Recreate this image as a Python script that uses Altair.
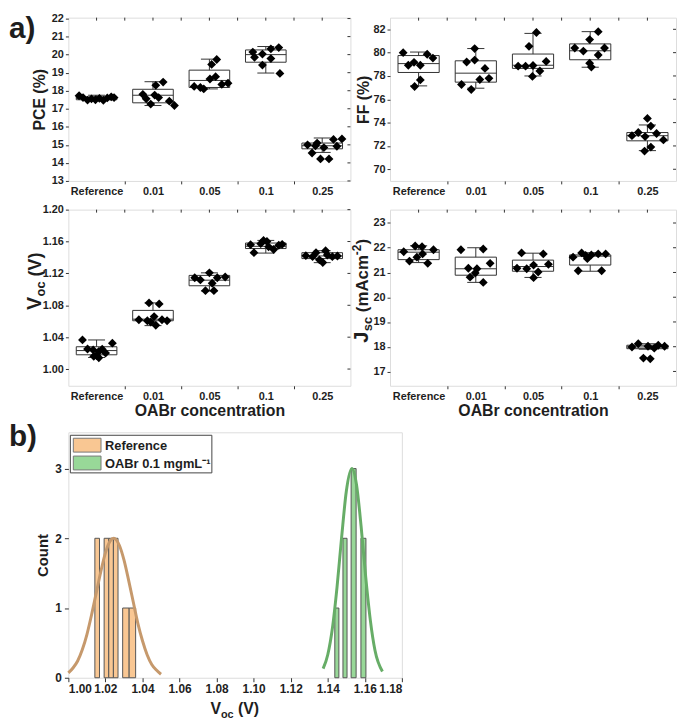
import altair as alt
import pandas as pd

FONT = "Liberation Sans"
DARK = "#1e1e1e"
FRAME = "#333333"
ORANGE = "#F9C793"
GREEN = "#98D898"
ORANGE_LINE = "#C6996C"
GREEN_LINE = "#67AD67"

CATEGORIES = ["Reference", "0.01", "0.05", "0.1", "0.25"]

# ---------------- box-plot panels: raw points, horizontal jitter, box statistics
PCE_VALUES = [
    [17.72, 17.62, 17.48, 17.55, 17.50, 17.58, 17.47, 17.60, 17.66, 17.62],
    [17.80, 17.26, 18.30, 18.48, 17.76, 17.62, 17.42, 17.18, 17.55],
    [18.24, 18.10, 18.65, 18.78, 19.46, 19.73, 18.35, 18.42, 18.18],
    [20.14, 19.85, 20.03, 19.42, 20.32, 19.78, 20.39, 18.96],
    [15.00, 14.55, 15.10, 14.22, 14.85, 14.22, 15.30, 14.92, 15.33, 14.95],
]
PCE_JITTER = [
    [-0.31, -0.24, -0.16, -0.09, -0.02, 0.05, 0.12, 0.19, 0.26, 0.31],
    [-0.18, -0.04, 0.05, 0.18, 0.03, 0.10, 0.29, 0.38, -0.12],
    [-0.27, -0.10, 0.01, 0.11, 0.04, 0.13, 0.22, 0.33, -0.16],
    [-0.23, -0.20, -0.06, -0.06, 0.09, 0.09, 0.23, 0.25],
    [-0.26, -0.18, -0.09, -0.03, 0.03, 0.12, 0.20, 0.26, 0.35, -0.12],
]
PCE_LO = [17.45, 17.18, 18.10, 18.98, 14.58]
PCE_Q1 = [17.50, 17.33, 18.18, 19.58, 14.78]
PCE_MED = [17.57, 17.75, 18.57, 20.00, 14.95]
PCE_Q3 = [17.65, 18.08, 19.14, 20.26, 15.10]
PCE_HI = [17.75, 18.50, 19.75, 20.45, 15.38]

FF_VALUES = [
    [80.00, 78.92, 79.17, 78.92, 77.10, 77.66, 79.86, 79.53],
    [77.27, 79.20, 76.84, 79.36, 80.35, 77.70, 78.65, 77.80],
    [78.84, 78.84, 80.54, 78.90, 77.96, 78.43, 81.73, 79.25],
    [80.40, 80.13, 78.76, 81.12, 81.80, 79.80, 80.40, 79.10],
    [72.88, 73.15, 72.80, 74.36, 73.70, 73.07, 72.52, 71.90, 71.56],
]
FF_JITTER = [
    [-0.27, -0.18, -0.08, 0.03, -0.07, 0.03, 0.15, 0.25],
    [-0.25, -0.16, -0.08, -0.02, -0.02, 0.07, 0.16, 0.23],
    [-0.26, -0.13, -0.07, 0.00, -0.01, 0.12, 0.06, 0.23],
    [-0.27, -0.12, 0.02, -0.01, 0.14, 0.14, 0.25, -0.01],
    [-0.27, -0.16, -0.04, 0.00, 0.06, 0.16, 0.28, 0.06, -0.05],
]
FF_LO = [77.15, 76.95, 78.00, 78.75, 71.60]
FF_Q1 = [78.30, 77.47, 78.65, 79.39, 72.44]
FF_MED = [79.06, 78.24, 78.92, 80.16, 72.88]
FF_Q3 = [79.75, 79.30, 79.88, 80.75, 73.15]
FF_HI = [80.05, 80.35, 81.65, 81.80, 73.80]

VOC_VALUES = [
    [1.0366, 1.0252, 1.0240, 1.0170, 1.0220, 1.0142, 1.0200, 1.0325, 1.0160, 1.0250],
    [1.0618, 1.0606, 1.0830, 1.0658, 1.0549, 1.0817, 1.0618, 1.0606, 1.0590],
    [1.1146, 1.1118, 1.0984, 1.1207, 1.1077, 1.0984, 1.1146, 1.1155],
    [1.1561, 1.1460, 1.1573, 1.1614, 1.1600, 1.1533, 1.1500, 1.1553, 1.1565],
    [1.1423, 1.1410, 1.1460, 1.1370, 1.1484, 1.1431, 1.1410, 1.1419, 1.1337],
]
VOC_JITTER = [
    [-0.25, -0.16, -0.06, 0.00, 0.04, 0.04, 0.16, 0.28, -0.05, 0.10],
    [-0.25, -0.10, -0.07, 0.02, 0.05, 0.11, 0.16, 0.25, -0.04],
    [-0.26, -0.16, -0.07, 0.00, 0.05, 0.08, 0.14, 0.28],
    [-0.27, -0.21, -0.09, -0.04, 0.02, 0.05, 0.14, 0.23, 0.29],
    [-0.29, -0.17, -0.11, -0.05, 0.06, 0.09, 0.18, 0.27, 0.01],
]
VOC_LO = [1.0145, 1.0545, 1.0980, 1.1455, 1.1335]
VOC_Q1 = [1.0179, 1.0606, 1.1045, 1.1512, 1.1386]
VOC_MED = [1.0232, 1.0626, 1.1115, 1.1540, 1.1419]
VOC_Q3 = [1.0280, 1.0736, 1.1175, 1.1581, 1.1460]
VOC_HI = [1.0365, 1.0830, 1.1207, 1.1614, 1.1485]

JSC_VALUES = [
    [21.84, 21.46, 22.07, 21.62, 22.04, 21.75, 21.37, 21.92],
    [21.92, 21.17, 20.81, 20.98, 21.95, 20.60, 21.37, 21.15],
    [21.17, 21.79, 21.15, 21.30, 20.79, 21.02, 21.75, 21.33],
    [21.62, 21.79, 21.69, 21.56, 21.71, 21.75, 21.75, 21.07, 21.07],
    [17.99, 18.12, 17.54, 18.02, 17.51, 17.94, 18.06, 18.02],
]
JSC_JITTER = [
    [-0.26, -0.16, -0.06, -0.03, 0.06, 0.07, 0.16, 0.26],
    [-0.26, -0.13, -0.10, -0.01, 0.13, 0.13, 0.25, 0.02],
    [-0.28, -0.20, -0.11, 0.01, 0.01, 0.09, 0.18, 0.27],
    [-0.30, -0.15, -0.08, -0.05, 0.02, 0.14, 0.27, -0.21, 0.20],
    [-0.27, -0.16, -0.07, 0.01, 0.05, 0.12, 0.19, 0.30],
]
JSC_LO = [21.40, 20.60, 20.80, 21.05, 17.90]
JSC_Q1 = [21.52, 20.89, 21.05, 21.30, 17.92]
JSC_MED = [21.82, 21.15, 21.24, 21.66, 17.99]
JSC_Q3 = [21.92, 21.62, 21.50, 21.71, 18.06]
JSC_HI = [22.08, 22.00, 21.78, 21.80, 18.12]

# ---------------- histogram (b)
HIST_SERIES = ["Reference", "OABr 0.1 mgmL\u207b\u00b9"]
REF_BIN_START = [1.0143, 1.0193, 1.0218, 1.0243, 1.0293, 1.0328]
REF_BIN_END = [1.0168, 1.0218, 1.0243, 1.0268, 1.0328, 1.0363]
REF_COUNT = [2, 2, 2, 2, 1, 1]
OABR_BIN_START = [1.1438, 1.1482, 1.1526, 1.1579]
OABR_BIN_END = [1.1460, 1.1504, 1.1553, 1.1606]
OABR_COUNT = [1, 2, 3, 2]

REF_FIT_X = [1.0000, 1.0025, 1.0050, 1.0075, 1.0100, 1.0125, 1.0150, 1.0175, 1.0200,
             1.0225, 1.0245, 1.0275, 1.0300, 1.0325, 1.0350, 1.0375, 1.0400, 1.0425,
             1.0450, 1.0475, 1.0500]
REF_FIT_Y = [0.07, 0.14, 0.24, 0.40, 0.62, 0.90, 1.21, 1.52, 1.79,
             1.96, 2.00, 1.90, 1.69, 1.40, 1.09, 0.78, 0.53, 0.33,
             0.19, 0.11, 0.05]
OABR_FIT_X = [1.1375, 1.1400, 1.1425, 1.1450, 1.1475, 1.1500, 1.1530, 1.1555, 1.1580,
              1.1605, 1.1630, 1.1655, 1.1695]
OABR_FIT_Y = [0.13, 0.33, 0.71, 1.30, 2.02, 2.67, 3.00, 2.77, 2.17,
              1.44, 0.82, 0.39, 0.09]

ONE = pd.DataFrame({"k": [0]})


def text_layer(text, size, x, y, angle=0, align="left", baseline="alphabetic"):
    return alt.Chart(ONE).mark_text(
        text=text, fontSize=size, fontWeight="bold", font=FONT, color=DARK,
        angle=angle, align=align, baseline=baseline,
    ).encode(x=alt.value(x), y=alt.value(y))


def anchor(x, y):
    # invisible point that fixes the panel's layout bounds
    return alt.Chart(ONE).mark_rule(opacity=0, strokeWidth=0.01).encode(
        x=alt.value(x), y=alt.value(y), y2=alt.value(y + 0.01))


def box_layer(x1, x2, y1, y2, fill, stroke):
    return alt.Chart(ONE).mark_rect(fill=fill, stroke=stroke, strokeWidth=1).encode(
        x=alt.value(x1), x2=alt.value(x2), y=alt.value(y1), y2=alt.value(y2))


def rotated_title(segments, x_base, y_start):
    # segments: (text, font size, shift across baseline, advance along text)
    layers = []
    y = y_start
    for text, size, dx, adv in segments:
        layers.append(text_layer(text, size, x_base + dx, y, angle=270))
        y -= adv
    return layers


AXIS_TXT = dict(labelFont=FONT, labelFontWeight="bold", labelColor=DARK,
                titleFont=FONT, titleFontWeight="bold", titleColor=DARK,
                grid=False, domain=False, tickColor=FRAME)


def box_panel(values, jitter, lo, q1, med, q3, hi, ydom, yvals, yfmt, ytitle,
              w, h, xtitle, extra=None, title_pad=4):
    rows = []
    for i, (vs, js) in enumerate(zip(values, jitter)):
        for v, j in zip(vs, js):
            rows.append({"idx": i, "value": v, "jit": j})
    pts_df = pd.DataFrame(rows)
    box_df = pd.DataFrame({"idx": list(range(5)), "lo": lo, "q1": q1,
                           "med": med, "q3": q3, "hi": hi})

    label_expr = ("datum.value % 1 === 0 ? " + str(CATEGORIES) +
                  "[datum.value] : ''")
    xvals = [0, 0.5, 1, 1.5, 2, 2.5, 3, 3.5, 4]
    xscale = alt.Scale(domain=[-0.5, 4.5], nice=False, zero=False)
    ax_kw = dict(AXIS_TXT)
    ax_kw.pop("tickColor")
    xaxis_kw = dict(
        values=xvals, tickCount=len(xvals) + 2, labelExpr=label_expr,
        labelOverlap=False, labelFontSize=11, labelPadding=2, tickSize=3,
        tickColor={"condition": {"test": "datum.value % 1 === 0",
                                 "value": "transparent"}, "value": FRAME},
        titleFontSize=16, titlePadding=1, **ax_kw,
    )
    if xtitle:
        xaxis = alt.Axis(title=xtitle, **xaxis_kw)
    else:
        xaxis = alt.Axis(title=None, **xaxis_kw)
    yscale = alt.Scale(domain=ydom, nice=False, zero=False)
    yaxis = alt.Axis(values=yvals, tickCount=len(yvals) + 2, labelOverlap=False,
                     format=yfmt, title=ytitle, labelFontSize=11,
                     labelPadding=2, tickSize=3, titleFontSize=16,
                     titlePadding=title_pad, **AXIS_TXT)

    base = alt.Chart(box_df).transform_calculate(
        xl="datum.idx - 0.36", xr="datum.idx + 0.36",
        cl="datum.idx - 0.15", cr="datum.idx + 0.15")
    rect = base.mark_rect(fill="white", fillOpacity=0, stroke=FRAME,
                          strokeWidth=1).encode(
        x=alt.X("xl:Q", scale=xscale, axis=xaxis), x2="xr:Q",
        y=alt.Y("q1:Q", scale=yscale, axis=yaxis), y2="q3:Q")
    rule_kw = dict(color=FRAME, strokeWidth=1)
    med_r = base.mark_rule(**rule_kw).encode(x="xl:Q", x2="xr:Q", y="med:Q")
    w_lo = base.mark_rule(**rule_kw).encode(x="idx:Q", y="lo:Q", y2="q1:Q")
    w_hi = base.mark_rule(**rule_kw).encode(x="idx:Q", y="q3:Q", y2="hi:Q")
    c_lo = base.mark_rule(**rule_kw).encode(x="cl:Q", x2="cr:Q", y="lo:Q")
    c_hi = base.mark_rule(**rule_kw).encode(x="cl:Q", x2="cr:Q", y="hi:Q")
    # inward ticks on the top and right frame edges (mirror of the axes)
    top_ticks = alt.Chart(pd.DataFrame({"t": xvals})).mark_rule(
        color=FRAME, strokeWidth=1).encode(
        x="t:Q", y=alt.value(0), y2=alt.value(3))
    right_ticks = alt.Chart(pd.DataFrame({"t": yvals})).mark_rule(
        color=FRAME, strokeWidth=1).encode(
        y="t:Q", x=alt.value(w - 3), x2=alt.value(w))
    pts = alt.Chart(pts_df).transform_calculate(
        xp="datum.idx + datum.jit").mark_point(
        shape="diamond", filled=True, color="black", size=80, opacity=1
    ).encode(x="xp:Q", y="value:Q")
    layers = [rect, med_r, w_lo, w_hi, c_lo, c_hi, top_ticks, right_ticks,
              pts] + (extra or [])
    return alt.layer(*layers).properties(width=w, height=h)


W_L, W_R = 285, 289
H_TOP, H_BOT = 165, 178
LEFT_EDGE = -60

tl = box_panel(PCE_VALUES, PCE_JITTER, PCE_LO, PCE_Q1, PCE_MED, PCE_Q3, PCE_HI,
               [13, 22.05], list(range(13, 23)), "d", "PCE (%)", W_L, H_TOP, None,
               extra=[text_layer("a)", 30, LEFT_EDGE, -3, baseline="top")],
               title_pad=4)
tr = box_panel(FF_VALUES, FF_JITTER, FF_LO, FF_Q1, FF_MED, FF_Q3, FF_HI,
               [69, 83], [70, 72, 74, 76, 78, 80, 82], "d", "FF (%)", W_R, H_TOP,
               None, title_pad=1)

voc_title = rotated_title(
    [("V", 20, 0, 13.3 + 0.5), ("oc", 13, 4, 15.2 + 5), ("(V)", 18, 0, 0)],
    -28, 0.57 * H_BOT)
bl = box_panel(VOC_VALUES, VOC_JITTER, VOC_LO, VOC_Q1, VOC_MED, VOC_Q3, VOC_HI,
               [0.979, 1.20], [1.00, 1.04, 1.08, 1.12, 1.16, 1.20], ".2f", None,
               W_L, H_BOT, "OABr concentration",
               extra=voc_title + [anchor(LEFT_EDGE, -11),
                                  anchor(LEFT_EDGE, H_BOT + 35)])

jsc_title = rotated_title(
    [("J", 20, 0, 11.6), ("sc", 13, 4, 14.5 + 4.7), ("(mAcm", 17, 0, 57.6),
     ("-2", 12, -7, 10.7), (")", 17, 0, 0)],
    -22, 0.755 * H_BOT)
br = box_panel(JSC_VALUES, JSC_JITTER, JSC_LO, JSC_Q1, JSC_MED, JSC_Q3, JSC_HI,
               [16.42, 23.54], list(range(17, 24)), "d", None, W_R, H_BOT,
               "OABr concentration", extra=jsc_title)

# ---------------- histogram
HW, HH = 337, 248
hist_rows = []
for s, st, en, ct in [(HIST_SERIES[0], REF_BIN_START, REF_BIN_END, REF_COUNT),
                      (HIST_SERIES[1], OABR_BIN_START, OABR_BIN_END, OABR_COUNT)]:
    for a, b, c in zip(st, en, ct):
        hist_rows.append({"series": s, "start": a, "end": b, "count": c, "base": 0})
hist_df = pd.DataFrame(hist_rows)
ref_fit = pd.DataFrame({"x": REF_FIT_X, "y": REF_FIT_Y})
oabr_fit = pd.DataFrame({"x": OABR_FIT_X, "y": OABR_FIT_Y})

HX_VALUES = [1.00, 1.02, 1.04, 1.06, 1.08, 1.10, 1.12, 1.14, 1.16, 1.18]
hx = alt.Scale(domain=[1.0, 1.18], nice=False, zero=False)
hy = alt.Scale(domain=[0, 3.52], nice=False)
bars = alt.Chart(hist_df).mark_rect(stroke="#555555", strokeWidth=1).encode(
    x=alt.X("start:Q", scale=hx, axis=alt.Axis(
        values=HX_VALUES, tickCount=len(HX_VALUES) + 2,
        format=".2f", title=None, labelFontSize=12, labelPadding=2, tickSize=4,
        labelOverlap=False, **AXIS_TXT)),
    x2="end:Q",
    y=alt.Y("count:Q", scale=hy, axis=alt.Axis(
        values=[0, 1, 2, 3], tickCount=6, format="d", title="Count",
        labelFontSize=12, labelPadding=3, tickSize=4, titleFontSize=15,
        titlePadding=4, **AXIS_TXT)),
    y2="base:Q",
    fill=alt.Fill("series:N", scale=alt.Scale(domain=HIST_SERIES,
                                              range=[ORANGE, GREEN]),
                  legend=None),
)
ref_line = alt.Chart(ref_fit).mark_line(color=ORANGE_LINE, strokeWidth=3,
                                        interpolate="monotone").encode(
    x="x:Q", y="y:Q")
oabr_line = alt.Chart(oabr_fit).mark_line(color=GREEN_LINE, strokeWidth=3,
                                          interpolate="monotone").encode(
    x="x:Q", y="y:Q")
hx0 = HW / 2 - 25
hist_extra = [
    # legend box
    box_layer(2, 145, 3, 41, "white", "#444"),
    box_layer(5, 33, 6, 20, ORANGE, "#777"),
    box_layer(5, 33, 24, 38, GREEN, "#777"),
    text_layer(HIST_SERIES[0], 13, 37, 18),
    text_layer(HIST_SERIES[1], 13, 37, 36),
    # axis title and panel tag
    text_layer("V", 16, hx0, HH + 37),
    text_layer("oc", 11, hx0 + 10.7, HH + 41),
    text_layer("(V)", 16, hx0 + 10.7 + 12.8 + 4.4, HH + 37),
    text_layer("b)", 30, LEFT_EDGE, -10, baseline="top"),
    anchor(LEFT_EDGE, -6),
]
hist = alt.layer(bars, ref_line, oabr_line, *hist_extra).properties(
    width=HW, height=HH)

row1 = alt.hconcat(tl, tr, spacing=40, bounds="flush")
row2 = alt.hconcat(bl, br, spacing=40, bounds="flush")
chart = alt.vconcat(row1, row2, hist, spacing=0).properties(
    padding=0
).configure_axis(
    labelFont=FONT, titleFont=FONT, labelFontWeight="bold",
    titleFontWeight="bold", labelColor=DARK, titleColor=DARK,
    tickColor=FRAME, domain=False, grid=False,
).configure_view(stroke=FRAME, strokeWidth=1.5).configure(background="white")

chart.save("out.html", embed_options={"renderer": "svg", "actions": False})
